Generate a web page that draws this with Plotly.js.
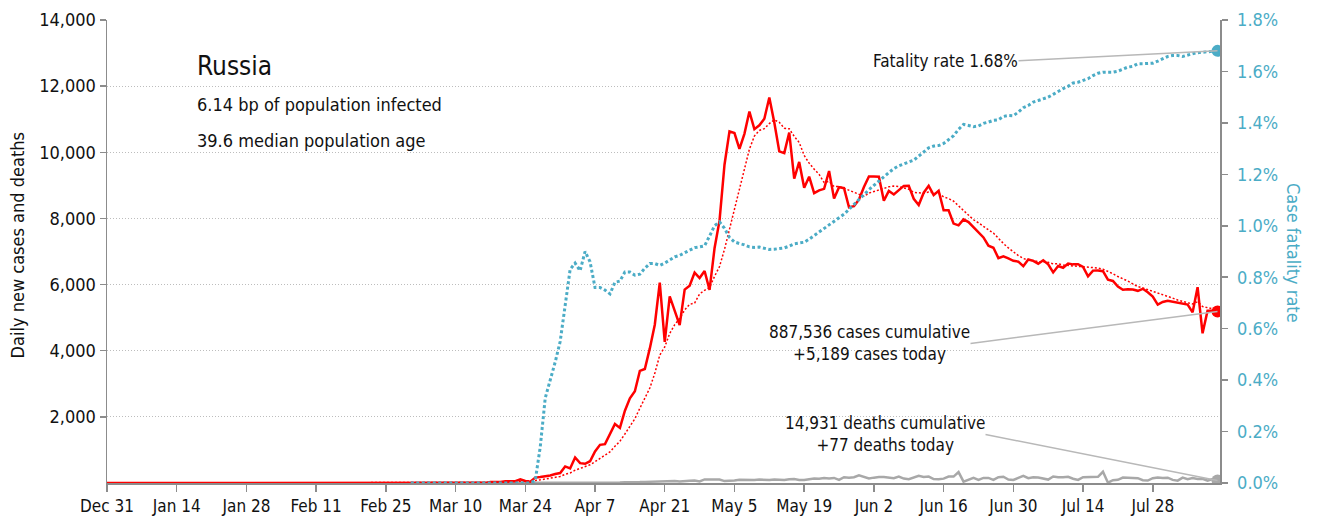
<!DOCTYPE html>
<html>
<head>
<meta charset="utf-8">
<script src="https://cdn.plot.ly/plotly-3.0.1.min.js"></script>
<style>
  html, body { margin: 0; padding: 0; background: #fff; }
  #chart { width: 1317px; height: 522px; }
</style>
</head>
<body>
<div id="chart"></div>
<script>
// daily new cases, one value per day from Dec 31
var casesDec = [0];
var casesJan = [0,0,0,0,0,0,0,0,0,0,0,0,0,0,0,0,0,0,0,0,0,0,0,0,0,0,0,0,0,0,0];
var casesFeb = [2,0,0,0,0,0,0,0,0,0,0,0,0,0,0,0,0,0,0,0,0,0,0,0,0,0,0,0,0];
var casesMar = [0,0,1,0,0,1,6,0,3,0,3,8,6,11,14,4,30,21,33,52,54,53,110,60,40,163,182,196,228,270,302];
var casesApr = [501,440,771,601,582,658,954,1154,1175,1459,1786,1667,2186,2558,2774,3388,3448,4070,4785,6060,
                4268,5642,5236,4774,5849,5966,6361,6198,6411,5841];
var casesMay = [7099,7933,9623,10633,10581,10102,10559,11231,10699,10817,11012,11656,10899,10028,9974,10598,
                9200,9709,8926,9263,8764,8849,8894,9434,8599,8946,8915,8338,8371,8572,8952];
var casesJun = [9268,9268,9262,8536,8831,8726,8855,8984,8985,8595,8404,8779,8987,8706,8835,8246,8248,7843,
                7790,7972,7889,7728,7600,7425,7176,7113,6800,6852,6791,6719];
var casesJul = [6693,6556,6760,6718,6632,6736,6611,6368,6562,6509,6635,6611,6615,6537,6248,6422,6428,6406,
                6150,6109,5940,5842,5862,5848,5811,5871,5765,5635,5395,5475,5509];
var casesAug = [5482,5462,5427,5394,5159,5920,4525,5210,5210,5189];

// daily deaths and case fatality rate (%), from Mar 1
var deathsMar = [0,0,0,0,0,0,0,0,0,0,0,0,0,0,0,0,0,0,0,0,0,0,0,0,0,1,1,2,0,4,1];
var deathsApr = [8,7,6,4,9,2,2,11,5,13,18,12,24,18,22,28,34,41,40,48,44,51,57,42,60,66,72,47,108,101];
var deathsMay = [96,105,57,58,76,95,86,98,88,104,88,94,107,96,93,113,119,94,91,115,135,127,150,139,153,
                 92,174,161,174,232,181];
var deathsJun = [138,162,182,178,169,144,197,134,112,174,216,181,194,119,113,132,193,194,330,40,109,153,
                 95,153,154,92,176,188,104,93];
var deathsJul = [154,216,147,176,168,135,104,198,173,174,188,130,95,175,175,193,186,340,10,85,95,165,159,
                 154,146,85,73,147,169,150,161];
var deathsAug = [95,70,161,114,150,124,129,70,122,77];

var rateMar = [0,0,0,0,0,0,0,0,0,0,0,0,0,0,0,0,0,0,0,0,0,0,0,0,0,0.01,0.14,0.33,0.395,0.47,0.55];
var rateApr = [0.69,0.83,0.855,0.825,0.90,0.86,0.76,0.76,0.75,0.735,0.78,0.785,0.82,0.82,0.808,0.812,0.835,
               0.853,0.853,0.846,0.855,0.866,0.879,0.885,0.894,0.905,0.915,0.918,0.922,0.96];
var rateMay = [1.0,1.015,0.99,0.955,0.937,0.931,0.926,0.918,0.916,0.917,0.913,0.908,0.909,0.911,0.914,0.921,
               0.93,0.933,0.936,0.948,0.962,0.975,0.99,1.006,1.019,1.032,1.045,1.064,1.083,1.105,1.125];
var rateJun = [1.14,1.157,1.175,1.19,1.207,1.222,1.233,1.242,1.248,1.255,1.27,1.287,1.303,1.31,1.312,1.32,
               1.335,1.35,1.375,1.394,1.39,1.385,1.388,1.398,1.403,1.41,1.412,1.425,1.429,1.428];
var rateJul = [1.442,1.459,1.468,1.481,1.487,1.494,1.5,1.511,1.523,1.533,1.542,1.555,1.558,1.565,1.572,1.584,
               1.593,1.597,1.597,1.597,1.601,1.61,1.617,1.62,1.63,1.63,1.63,1.632,1.64,1.649,1.658];
var rateAug = [1.662,1.662,1.658,1.665,1.669,1.673,1.675,1.678,1.679,1.68];

var leftTicks = [2000, 4000, 6000, 8000, 10000, 12000, 14000];
var rightTicks = [0, 0.2, 0.4, 0.6, 0.8, 1.0, 1.2, 1.4, 1.6, 1.8];
var rightLabels = ['0.0%', '0.2%', '0.4%', '0.6%', '0.8%', '1.0%', '1.2%', '1.4%', '1.6%', '1.8%'];

var cases = [].concat(casesDec, casesJan, casesFeb, casesMar, casesApr, casesMay, casesJun, casesJul, casesAug);
var deaths = [].concat(deathsMar, deathsApr, deathsMay, deathsJun, deathsJul, deathsAug);
var rate = [].concat(rateMar, rateApr, rateMay, rateJun, rateJul, rateAug);

function dayList(start, n) {
	var out = [];
	var t0 = Date.parse(start + 'T00:00:00Z');
	for (var i = 0; i < n; i++) {
		out.push(new Date(t0 + i * 864e5).toISOString().slice(0, 10));
	}
	return out;
}

// 7 day trailing average of the cases (the thin dotted red line)
function trailing(arr, w) {
	var out = [];
	for (var i = 0; i < arr.length; i++) {
		var s = 0, n = 0;
		for (var j = Math.max(0, i - w + 1); j <= i; j++) { s += arr[j]; n++; }
		out.push(s / n);
	}
	return out;
}

var caseDates = dayList('2019-12-31', cases.length);
var marDates = dayList('2020-03-01', deaths.length);
var smooth = trailing(cases, 7);

var RED = '#FF0000';
var BLUE = '#4BACC6';
var GREY = '#A8A8A8';
var AXIS = '#8C8C8C';
var FONT = 'DejaVu Sans Condensed, Liberation Sans Narrow, sans-serif';

var last = cases.length - 1;
var lastD = deaths.length - 1;

var data = [{
	x: marDates, y: rate, yaxis: 'y2', type: 'scatter', mode: 'lines',
	line: {color: BLUE, width: 3, dash: '3px,2.5px'}
}, {
	x: marDates, y: deaths, type: 'scatter', mode: 'lines',
	line: {color: GREY, width: 2.5}
}, {
	x: caseDates, y: smooth, type: 'scatter', mode: 'lines',
	line: {color: RED, width: 1.5, dash: '2px,2px'}
}, {
	x: caseDates, y: cases, type: 'scatter', mode: 'lines',
	line: {color: RED, width: 2.5}
}, {
	x: [caseDates[last]], y: [cases[last]], type: 'scatter', mode: 'markers',
	marker: {color: RED, size: 12}
}, {
	x: [marDates[lastD]], y: [deaths[lastD]], type: 'scatter', mode: 'markers',
	marker: {color: GREY, size: 12}
}, {
	x: [marDates[lastD]], y: [rate[lastD]], yaxis: 'y2', type: 'scatter', mode: 'markers',
	marker: {color: BLUE, size: 12}
}];

var textAnn = {xref: 'paper', yref: 'paper', showarrow: false, xanchor: 'left', yanchor: 'middle',
	font: {family: FONT, size: 18, color: '#111'}};

var annotations = [
	Object.assign({}, textAnn, {x: 0.079, y: 0.9, text: 'Russia', font: {family: FONT, size: 26, color: '#111'}}),
	Object.assign({}, textAnn, {x: 0.079, y: 0.818, text: '6.14 bp of population infected'}),
	Object.assign({}, textAnn, {x: 0.079, y: 0.74, text: '39.6 median population age'}),
	{
		xref: 'paper', yref: 'paper', x: -0.08, y: 0.513, showarrow: false, textangle: -90,
		xanchor: 'center', yanchor: 'middle', text: 'Daily new cases and deaths',
		font: {family: FONT, size: 18, color: '#111'}
	},
	{
		xref: 'paper', yref: 'paper', x: 1.0655, y: 0.497, showarrow: false, textangle: 90,
		xanchor: 'center', yanchor: 'middle', text: 'Case fatality rate',
		font: {family: FONT, size: 18, color: BLUE}
	},
	{
		x: marDates[lastD], y: rate[lastD], xref: 'x', yref: 'y2',
		text: 'Fatality rate 1.68%', showarrow: true, arrowhead: 0, arrowwidth: 1.5, arrowcolor: '#B8B8B8',
		ax: -199, ay: 10, xanchor: 'right', yanchor: 'middle', standoff: 0, borderpad: 0,
		font: {family: FONT, size: 17, color: '#111'}
	},
	{
		x: caseDates[last], y: cases[last], xref: 'x', yref: 'y',
		text: '887,536 cases cumulative<br>+5,189 cases today', align: 'center',
		showarrow: true, arrowhead: 0, arrowwidth: 1.5, arrowcolor: '#B8B8B8',
		ax: -247, ay: 32, xanchor: 'right', yanchor: 'middle', standoff: 0, borderpad: 0,
		font: {family: FONT, size: 17, color: '#111'}
	},
	{
		x: marDates[lastD], y: deaths[lastD], xref: 'x', yref: 'y',
		text: '14,931 deaths cumulative<br>+77 deaths today', align: 'center',
		showarrow: true, arrowhead: 0, arrowwidth: 1.5, arrowcolor: '#B8B8B8',
		ax: -232, ay: -46, xanchor: 'right', yanchor: 'middle', standoff: 0, borderpad: 0,
		font: {family: FONT, size: 17, color: '#111'}
	}
];

var layout = {
	width: 1317,
	height: 522,
	margin: {l: 107, r: 97, t: 20, b: 39, pad: 0},
	paper_bgcolor: '#fff',
	plot_bgcolor: '#fff',
	showlegend: false,
	font: {family: FONT, size: 18, color: '#111'},
	xaxis: {
		type: 'date',
		range: ['2019-12-31', '2020-08-10 12:00'],
		tick0: '2019-12-31',
		dtick: 14 * 864e5,
		tickformat: '%b %-d',
		ticks: 'outside', ticklen: 7, tickcolor: AXIS, tickwidth: 1.5,
		showline: true, linecolor: AXIS, linewidth: 1.5,
		showgrid: false, zeroline: false,
		tickfont: {family: FONT, size: 17, color: '#111'}
	},
	yaxis: {
		range: [0, 14000],
		tickmode: 'array',
		tickvals: leftTicks,
		tickformat: ',d',
		ticks: 'outside', ticklen: 6, tickcolor: AXIS, tickwidth: 1.5,
		showline: true, linecolor: AXIS, linewidth: 1.5,
		showgrid: true, gridcolor: '#BDBDBD', griddash: '1px,2px', gridwidth: 1,
		zeroline: false,
		tickfont: {family: FONT, size: 18, color: '#111'}
	},
	yaxis2: {
		overlaying: 'y',
		side: 'right',
		range: [0, 1.8],
		tickmode: 'array',
		tickvals: rightTicks,
		ticktext: rightLabels,
		ticks: 'outside', ticklen: 6, tickcolor: AXIS, tickwidth: 1.5,
		ticklabelstandoff: 6,
		showline: true, linecolor: AXIS, linewidth: 1.5,
		showgrid: false, zeroline: false,
		tickfont: {family: FONT, size: 18, color: BLUE}
	},
	annotations: annotations
};

Plotly.newPlot('chart', data, layout, {staticPlot: true, displayModeBar: false});
</script>
</body>
</html>
